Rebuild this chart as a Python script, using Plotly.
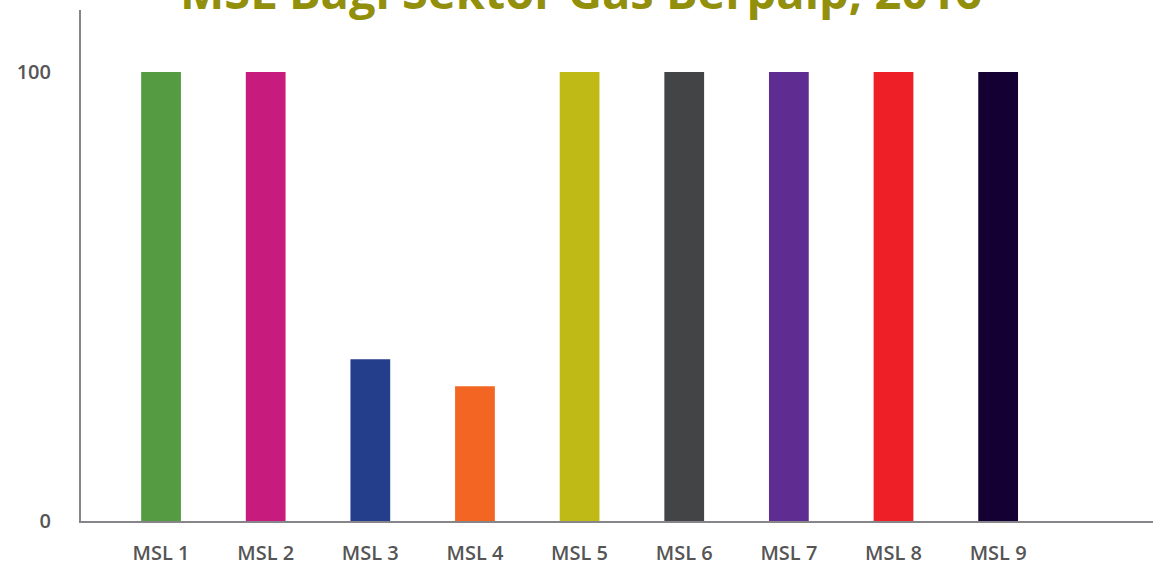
import plotly.graph_objects as go

categories = ["MSL 1", "MSL 2", "MSL 3", "MSL 4", "MSL 5", "MSL 6", "MSL 7", "MSL 8", "MSL 9"]
values = [100, 100, 36, 30, 100, 100, 100, 100, 100]
colors = ["#549B41", "#C81B7E", "#243E8C", "#F26522", "#C0BA17", "#434446", "#5F2D91", "#EE1F26", "#140032"]
y_ticks = [0, 100]
title_text = "MSL Bagi Sektor Gas Berpaip, 2016"

fig = go.Figure(go.Bar(x=categories, y=values, marker=dict(color=colors, line=dict(width=0)), width=0.38))

fig.update_layout(
    width=1153, height=567,
    margin=dict(l=81, r=0, t=10, b=46, autoexpand=False),
    paper_bgcolor="white", plot_bgcolor="white",
    showlegend=False,
    font=dict(family="Open Sans", color="#555555"),
    xaxis=dict(
        type="category", range=[-0.765, 9.48], automargin=False,
        showline=True, linecolor="#86868A", linewidth=2,
        showgrid=False, ticks="", ticklabelstandoff=13,
        tickfont=dict(size=20, color="#555555", family="Open Sans", weight=600),
    ),
    yaxis=dict(
        range=[0, 113.8], tickvals=y_ticks, automargin=False,
        showline=True, linecolor="#86868A", linewidth=2,
        showgrid=False, zeroline=False, ticks="", ticklabelstandoff=24,
        tickfont=dict(size=20, color="#555555", family="Open Sans", weight=600),
    ),
    annotations=[dict(
        text="<b>" + title_text + "</b>", xref="paper", yref="paper",
        x=(581 - 81) / 1072, y=1 + 19 / 511, xanchor="center", yanchor="middle",
        showarrow=False, font=dict(size=47, color="#928F0C", family="Open Sans"),
    )],
)

fig.write_html("out.html", config={"displayModeBar": False},
               post_script="document.body.style.margin='0';document.body.style.overflow='hidden';")
